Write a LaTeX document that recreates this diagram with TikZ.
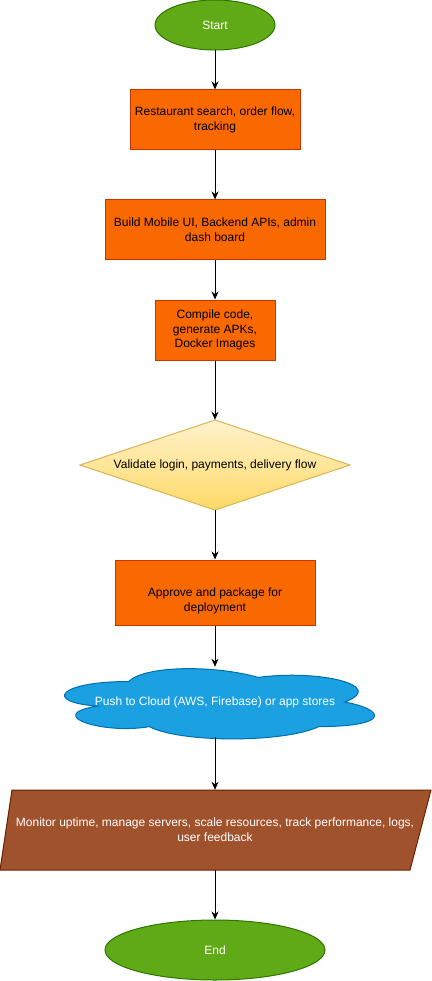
\documentclass[tikz,border=0pt]{standalone}
\usepackage{fontspec}
\setmainfont{Liberation Sans}
\usetikzlibrary{shapes.geometric,arrows.meta}
\definecolor{gfill}{HTML}{60A917}
\definecolor{gline}{HTML}{2D7600}
\definecolor{ofill}{HTML}{FA6800}
\definecolor{oline}{HTML}{C73500}
\definecolor{dtop}{HTML}{FFF2CC}
\definecolor{dbot}{HTML}{FFD966}
\definecolor{dline}{HTML}{D6B656}
\definecolor{cfill}{HTML}{1BA1E2}
\definecolor{cline}{HTML}{006EAF}
\definecolor{pfill}{HTML}{A0522D}
\definecolor{pline}{HTML}{6D1F00}
\tikzset{
  txt/.style={font=\fontsize{12}{14.6}\selectfont, align=center},
  term/.style={ellipse, draw=gline, fill=gfill, text=white, line width=1pt, inner sep=0pt, txt},
  proc/.style={rectangle, draw=oline, fill=ofill, text=black, line width=1pt, inner sep=0pt, txt},
  ghost/.style={rectangle, draw=none, inner sep=0pt, txt},
  flow/.style={-{Stealth[length=8pt,width=7pt,inset=2.5pt]}, line width=1pt, black},
}
\begin{document}
\begin{tikzpicture}[x=1pt,y=-1pt]
\useasboundingbox (0,0) rectangle (431,981);
% Start
\node[term, minimum width=120, minimum height=50] (start) at (215,25) {Start};
% Box 1
\node[proc, minimum width=170, minimum height=60] (b1) at (215,120) {Restaurant search, order flow,\\tracking};
% Box 2
\node[proc, minimum width=220, minimum height=60] (b2) at (215,230) {Build Mobile UI, Backend APIs, admin\\dash board};
% Box 3
\node[proc, minimum width=120, minimum height=60] (b3) at (215,330) {Compile code,\\generate APKs,\\Docker Images};
% Diamond
\path[draw=dline, line width=1pt, top color=dtop, bottom color=dbot] (215,420) -- (350,465) -- (215,510) -- (80,465) -- cycle;
\node[ghost, minimum width=270, minimum height=90] (dia) at (215,465) {Validate login, payments, delivery flow};
% Box 4
\node[proc, minimum width=200, minimum height=65] (b4) at (215,592.5) {};
\node[txt] (b4t) at (215,601) {Approve and package for\\deployment};
% Cloud (draw.io cloud path)
\begin{scope}[shift={(42,661)}, x=346pt, y=-82pt]
\path[draw=cline, fill=cfill, line width=1pt]
  (0.25,0.25) .. controls (0.05,0.25) and (0,0.5) .. (0.16,0.55)
  .. controls (0,0.66) and (0.18,0.9) .. (0.31,0.8)
  .. controls (0.4,1) and (0.7,1) .. (0.8,0.8)
  .. controls (1,0.8) and (1,0.6) .. (0.875,0.5)
  .. controls (1,0.3) and (0.8,0.1) .. (0.625,0.2)
  .. controls (0.5,0.05) and (0.3,0.05) .. (0.25,0.25) -- cycle;
\end{scope}
\node[ghost, text=white, minimum width=316, minimum height=70] (cloud) at (215,702) {Push to Cloud (AWS, Firebase) or app stores};
% Parallelogram
\path[draw=pline, fill=pfill, line width=1pt] (12,790) -- (431,790) -- (410,870) -- (0,870) -- cycle;
\node[ghost, text=white, minimum width=400, minimum height=80] (para) at (215,830) {Monitor uptime, manage servers, scale resources, track performance, logs,\\user feedback};
% End
\node[term, minimum width=220, minimum height=60] (end) at (215,950) {End};
% Connectors
\draw[flow] (start) -- (b1);
\draw[flow] (b1) -- (b2);
\draw[flow] (b2) -- (b3);
\draw[flow] (b3) -- (dia.north);
\draw[flow] (dia.south) -- (b4);
\draw[flow] (b4) -- (cloud.north);
\draw[flow] (cloud.south) -- (para.north);
\draw[flow] (para.south) -- (end);
\end{tikzpicture}
\end{document}
